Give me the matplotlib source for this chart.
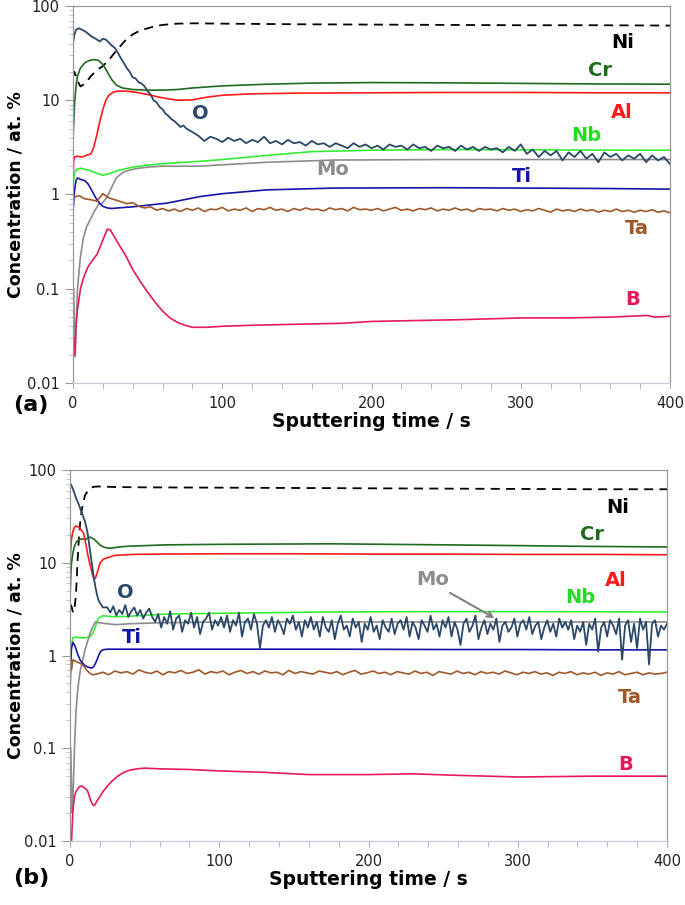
import numpy as np
import matplotlib.pyplot as plt
from matplotlib.ticker import LogLocator, NullFormatter, MultipleLocator

plt.rcParams['font.family'] = 'DejaVu Sans'

# ---------------- panel (a) ----------------
t_ni_a = [0, 1, 3, 5, 8, 12, 16, 20, 25, 30, 35, 40, 45, 50, 55, 60, 70, 80, 100, 150, 200, 250, 300, 350, 400]
ni_a = [18, 20, 16, 14, 15, 18, 21, 23, 28, 35, 43, 50, 55, 58, 61, 63, 65, 65.5, 65, 64, 63.5, 63, 62.5, 62.5, 62]

t_cr_a = [0, 1, 2, 3, 5, 8, 11, 14, 17, 20, 23, 26, 29, 33, 40, 50, 60, 70, 80, 100, 130, 160, 200, 250, 300, 350, 400]
cr_a = [3.8, 9, 14, 18, 22, 25, 26.5, 27, 26.5, 24, 20, 16.5, 14.5, 13.5, 13, 12.8, 12.8, 13, 13.5, 14.2, 14.8, 15.2, 15.4, 15.3, 15.1, 14.9, 14.8]

t_al_a = [0, 0.5, 1, 3, 6, 9, 12, 14, 16, 18, 20, 22, 24, 27, 30, 35, 40, 50, 60, 70, 80, 90, 100, 120, 150, 200, 250, 300, 350, 400]
al_a = [1.5, 2.3, 2.5, 2.55, 2.5, 2.6, 2.7, 3.2, 4.3, 6.0, 8.0, 10.0, 11.3, 12.2, 12.5, 12.5, 12.3, 11.5, 10.6, 10.0, 10.1, 10.8, 11.3, 11.7, 11.9, 12.0, 12.1, 12.1, 12.0, 12.0]

t_nb_a = [0, 1, 2.5, 5, 10, 15, 20, 25, 30, 40, 50, 60, 85, 100, 130, 160, 200, 250, 300, 350, 400]
nb_a = [1.2, 1.7, 1.85, 1.9, 1.82, 1.7, 1.6, 1.68, 1.8, 1.95, 2.05, 2.12, 2.25, 2.35, 2.6, 2.85, 2.95, 3.0, 2.98, 2.96, 2.95]

t_mo_a = [0.5, 1, 1.5, 2, 3, 5, 7, 9, 11, 14, 17, 20, 23, 26, 29, 33, 37, 42, 50, 60, 85, 130, 175, 250, 300, 350, 400]
mo_a = [0.1, 0.03, 0.019, 0.04, 0.1, 0.22, 0.35, 0.45, 0.52, 0.65, 0.78, 0.82, 0.95, 1.2, 1.5, 1.7, 1.8, 1.88, 1.95, 2.0, 2.0, 2.2, 2.32, 2.35, 2.35, 2.35, 2.35]

t_ti_a = [0, 1, 2, 3, 5, 8, 10, 12, 14, 16, 18, 20, 23, 26, 30, 35, 40, 50, 63, 85, 100, 130, 175, 250, 300, 350, 400]
ti_a = [0.65, 1.1, 1.4, 1.5, 1.45, 1.4, 1.3, 1.15, 1.0, 0.88, 0.8, 0.75, 0.72, 0.71, 0.72, 0.73, 0.74, 0.77, 0.81, 0.95, 1.02, 1.12, 1.17, 1.18, 1.17, 1.16, 1.14]

# Ta, sampled every 4 s from 0 to 400 s
ta_a = [0.93,
        0.97, 0.9, 0.88, 0.85, 1.02, 0.92, 0.88, 0.84, 0.8, 0.82,
        0.75, 0.72, 0.74, 0.68, 0.71, 0.67, 0.7, 0.66, 0.71, 0.68,
        0.72, 0.66, 0.7, 0.69, 0.73, 0.67, 0.7, 0.68, 0.72, 0.66,
        0.71, 0.69, 0.73, 0.68, 0.7, 0.66, 0.71, 0.68, 0.72, 0.69,
        0.7, 0.67, 0.72, 0.69, 0.71, 0.67, 0.73, 0.69, 0.7, 0.68,
        0.71, 0.67, 0.7, 0.73, 0.68, 0.7, 0.67, 0.71, 0.69, 0.72,
        0.67, 0.7, 0.68, 0.72, 0.68, 0.7, 0.66, 0.71, 0.69, 0.7,
        0.67, 0.71, 0.68, 0.7, 0.66, 0.69, 0.67, 0.71, 0.68, 0.65,
        0.7, 0.67, 0.69, 0.66, 0.7, 0.67, 0.69, 0.65, 0.68, 0.66,
        0.7, 0.66, 0.68, 0.65, 0.68, 0.66, 0.69, 0.65, 0.67, 0.64]

t_b_a = [0.5, 1, 1.5, 2, 3, 5, 7, 10, 13, 16, 19, 21, 23, 25, 28, 31, 35, 40, 45, 50, 55, 60, 65, 70, 75, 80, 90, 100, 120, 150, 180, 200, 230, 260, 300, 330, 360, 385, 390, 400]
b_a = [0.03, 0.02, 0.025, 0.04, 0.06, 0.1, 0.13, 0.17, 0.2, 0.23, 0.3, 0.36, 0.43, 0.42, 0.35, 0.29, 0.23, 0.16, 0.12, 0.092, 0.072, 0.058, 0.049, 0.044, 0.041, 0.039, 0.039, 0.04, 0.041, 0.042, 0.043, 0.045, 0.046, 0.047, 0.049, 0.049, 0.05, 0.052, 0.05, 0.051]

t_o_a = [0, 1, 2, 4, 6, 8, 10, 12, 14, 16, 18, 20, 22, 24, 26, 28, 30, 32, 34, 36, 38, 40, 42, 44, 46, 48, 50, 52, 54, 56, 58, 60, 62, 64, 66, 68, 70, 72, 74, 76, 78]
o_a = [40, 50, 56, 58, 56, 54, 51, 48, 46, 44, 42, 45, 44, 41, 38, 36, 32, 28, 25, 22, 20, 17.5, 17, 15.5, 15, 14, 12.5, 11.5, 10, 9.5, 8.5, 8, 7.2, 6.8, 6.3, 6, 5.6, 5.2, 5.4, 5.0, 4.8]
# O after 80 s, every 4 s
o_a_tail = [4.6, 4.2, 3.7, 4.1, 3.9, 3.6, 4.0, 3.7, 3.9, 3.5, 3.8, 3.6, 4.1, 3.5, 3.7, 3.4, 3.8, 3.5, 3.6, 3.3,
            3.7, 3.4, 3.5, 3.2, 3.5, 3.3, 3.1, 3.5, 3.2, 3.4, 3.1, 3.3, 3.0, 3.4, 3.2, 3.3, 3.0, 3.4, 3.1, 3.2,
            2.9, 3.3, 3.1, 3.2, 2.9, 3.3, 3.0, 3.2, 2.9, 3.2, 3.0, 3.1, 2.8, 3.2, 2.9, 3.4, 2.7, 3.0, 2.5, 2.9,
            2.6, 2.9, 2.3, 2.8, 2.5, 2.9, 2.4, 2.7, 2.2, 2.8, 2.5, 2.7, 2.3, 2.6, 2.4, 2.7, 2.2, 2.6, 2.3, 2.5, 2.1]

# ---------------- panel (b) ----------------
t_ni_b = [0, 1, 2, 3, 4, 5, 6, 7, 8, 10, 12, 14, 16, 20, 25, 30, 50, 100, 150, 200, 250, 300, 350, 400]
ni_b = [3.6, 3.4, 2.9, 3.2, 4.5, 10, 19, 29, 38, 53, 60, 64, 66, 66.5, 66, 65.5, 65, 64.5, 64, 63.5, 63, 62.5, 62, 62]

t_cr_b = [0, 0.5, 1, 2, 3, 4, 5, 6, 8, 10, 12, 13.5, 16, 18, 20, 22, 25, 28, 33, 40, 65, 100, 175, 250, 300, 350, 400]
cr_b = [4, 7, 10, 13, 15, 16.5, 17.3, 17.8, 18.1, 17.8, 18.4, 18.9, 18, 16.8, 15.6, 14.9, 14.4, 14.4, 14.8, 15.1, 15.6, 15.8, 16.0, 15.6, 15.3, 15.0, 14.8]

t_al_b = [0, 0.5, 1, 2, 3, 4, 5, 6, 7, 8, 9, 10, 11, 12, 13, 14, 15, 16, 17, 18, 19, 20, 22, 24, 27, 30, 42, 60, 100, 150, 200, 250, 300, 350, 400]
al_b = [10, 14, 18, 22, 24, 25, 24.5, 24, 23, 22, 21, 18, 14.8, 12, 10.2, 8.8, 7.5, 6.7, 6.8, 7.6, 8.6, 9.8, 10.8, 11.2, 11.6, 12.0, 12.3, 12.4, 12.5, 12.5, 12.4, 12.4, 12.3, 12.3, 12.2]

t_nb_b = [0, 1, 2, 4, 7, 10, 12, 14, 16, 17, 18, 19, 20, 22, 25, 30, 40, 65, 100, 175, 250, 300, 350, 400]
nb_b = [0.9, 1.3, 1.55, 1.58, 1.55, 1.55, 1.57, 1.62, 1.85, 2.05, 2.3, 2.5, 2.6, 2.68, 2.65, 2.62, 2.65, 2.8, 2.85, 2.95, 2.97, 2.97, 2.96, 2.95]

t_mo_b = [0.5, 1, 1.5, 2, 3, 4, 5, 6, 7, 8, 9, 10, 12, 13.5, 15, 17, 20, 25, 31, 40, 60, 100, 175, 250, 300, 400]
mo_b = [0.1, 0.04, 0.02, 0.03, 0.1, 0.25, 0.4, 0.55, 0.7, 0.82, 0.95, 1.15, 1.45, 1.75, 2.0, 2.3, 2.25, 2.2, 2.15, 2.2, 2.25, 2.3, 2.3, 2.3, 2.3, 2.3]

t_ti_b = [0, 0.5, 1, 2, 3, 4, 5, 6.7, 8, 10, 12, 14.5, 16, 17, 18, 19, 20, 21, 23, 26, 30, 50, 100, 175, 250, 300, 350, 400]
ti_b = [0.4, 0.8, 1.2, 1.38, 1.3, 1.18, 1.05, 0.9, 0.84, 0.78, 0.75, 0.73, 0.76, 0.82, 0.89, 0.98, 1.07, 1.13, 1.16, 1.17, 1.17, 1.17, 1.17, 1.17, 1.16, 1.16, 1.15, 1.15]

t_ta_b = [1, 2, 3, 5, 7, 9, 11, 13, 15]
ta_b = [0.7, 0.9, 0.88, 0.85, 0.82, 0.78, 0.7, 0.65, 0.62]
# Ta after 18 s, every 4 s
ta_b_tail = [0.63, 0.66, 0.62, 0.68, 0.65, 0.67, 0.63, 0.7, 0.66, 0.64, 0.68, 0.62, 0.67, 0.65, 0.69, 0.64,
             0.66, 0.7, 0.63, 0.67, 0.65, 0.68, 0.62, 0.66, 0.69, 0.64, 0.67, 0.63, 0.68, 0.65, 0.66, 0.62,
             0.69, 0.64, 0.67, 0.65, 0.63, 0.68, 0.66, 0.64, 0.67, 0.62, 0.66, 0.69, 0.63, 0.65, 0.68, 0.64,
             0.66, 0.62, 0.67, 0.65, 0.63, 0.68, 0.64, 0.66, 0.61, 0.67, 0.65, 0.63, 0.68, 0.64, 0.66, 0.62,
             0.67, 0.64, 0.66, 0.63, 0.68, 0.65, 0.62, 0.66, 0.64, 0.67, 0.63, 0.65, 0.61, 0.66, 0.64, 0.67,
             0.62, 0.65, 0.63, 0.66, 0.61, 0.65, 0.63, 0.67, 0.62, 0.64, 0.66, 0.62, 0.65, 0.63, 0.64, 0.66]

t_b_b = [0.8, 1, 1.5, 2, 3, 4, 5, 6, 7, 8, 9, 10, 11, 12, 13, 14, 15, 16, 17, 18, 20, 22, 25, 28, 32, 36, 40, 45, 50, 60, 80, 100, 130, 160, 200, 230, 260, 300, 350, 400]
b_b = [0.008, 0.01, 0.015, 0.022, 0.03, 0.034, 0.036, 0.038, 0.039, 0.039, 0.038, 0.037, 0.036, 0.034, 0.03, 0.027, 0.025, 0.024, 0.025, 0.027, 0.03, 0.034, 0.039, 0.044, 0.05, 0.055, 0.058, 0.06, 0.061, 0.06, 0.059, 0.057, 0.055, 0.052, 0.052, 0.053, 0.051, 0.049, 0.05, 0.05]

t_o_b = [0, 1, 2, 3, 4, 5, 6, 7, 8, 9, 10, 11, 12, 13, 14, 15, 16, 17, 18, 19, 20, 22]
o_b = [72, 68, 62, 56, 50, 46, 42, 38, 34, 31, 28, 24, 20, 15, 11.5, 9, 6.8, 5.5, 4.6, 4.0, 3.7, 3.3]
# O after 25 s, every 2 s
o_b_tail = [3.3, 2.9, 3.4, 2.7, 3.1, 2.8, 3.5, 2.6, 3.0, 3.3, 2.7, 3.1, 2.5, 2.9, 3.2, 2.6,
            2.3, 2.8, 2.0, 2.6, 2.2, 3.0, 1.9, 2.5, 2.7, 1.8, 2.4, 2.2, 2.9, 2.0, 2.6, 1.7, 2.3, 2.5, 2.9, 1.9,
            2.4, 2.1, 2.6,
            2.0, 2.7, 1.8, 2.4, 2.1, 2.9, 1.6, 2.3, 2.5, 1.9, 2.8, 2.2, 1.2, 2.1, 2.4, 2.0, 2.6, 1.8, 2.4, 2.1,
            1.7, 2.5, 2.2, 2.7, 1.9, 2.3, 1.6, 2.4, 2.0, 2.6,
            1.9, 2.3, 1.6, 2.6, 2.0, 1.8, 2.4, 1.5, 2.2, 2.7, 1.9, 2.1, 1.6, 2.5, 2.0, 2.3, 1.4, 2.2, 1.9, 2.6,
            1.8, 2.1, 1.5, 2.4, 2.0, 1.8, 2.5, 1.7, 2.2, 2.4, 1.9, 2.6, 1.6, 2.3, 2.0, 1.5, 2.4, 2.1, 1.8, 2.7,
            1.9, 2.2, 1.6, 2.4, 2.0,
            2.6, 1.6, 2.3, 1.9, 1.3, 2.2, 2.5, 1.8, 2.1, 2.7, 1.5, 2.0, 2.4, 1.7, 2.2, 1.9, 2.5, 1.4, 2.1, 2.3,
            1.8, 2.0, 2.5, 1.6, 2.2, 2.4, 1.9, 2.6, 1.7, 2.1, 2.3, 1.5, 2.0, 2.4, 1.8, 2.2, 1.6, 2.5, 2.0, 2.3,
            1.9, 2.4, 1.5, 2.1, 1.8, 2.3, 1.3, 2.2, 1.9, 2.5, 1.1, 2.0, 2.3, 1.6, 2.4, 2.1, 1.7, 2.5, 0.9, 2.1,
            2.4, 1.4, 2.2, 1.2, 2.5, 1.9, 2.3, 0.8, 2.2, 2.4, 1.6, 2.1, 1.9, 2.2]

col = {'Ni': 'black', 'Cr': '#1e6b1e', 'Al': '#ff1a1a', 'Nb': '#33ee33', 'Mo': '#8c8c8c',
       'Ti': '#1515a8', 'Ta': '#a0582a', 'B': '#e8185c', 'O': '#2b4868'}


def style_axes(ax):
    ax.set_yscale('log')
    ax.set_xlim(0, 400)
    ax.set_ylim(0.01, 100)
    ax.set_yticks([0.01, 0.1, 1, 10, 100])
    ax.set_yticklabels(['0.01', '0.1', '1', '10', '100'])
    ax.yaxis.set_minor_locator(LogLocator(base=10, subs=np.arange(2, 10)))
    ax.yaxis.set_minor_formatter(NullFormatter())
    ax.set_xticks([0, 100, 200, 300, 400])
    ax.xaxis.set_minor_locator(MultipleLocator(20))
    ax.tick_params(axis='y', which='major', length=6, color='#999999', labelsize=10.5, labelcolor='#222222')
    ax.tick_params(axis='y', which='minor', length=3, color='#bbbbbb')
    ax.tick_params(axis='x', which='both', length=4, color='#aaaacc', labelsize=10.5, labelcolor='#222222', pad=5)
    for s in ax.spines.values():
        s.set_color('#999999')
        s.set_linewidth(0.9)
    ax.spines['bottom'].set_color('#c8c8dc')
    ax.set_xlabel('Sputtering time / s', fontsize=13.5, fontweight='bold', labelpad=1)
    ax.set_ylabel('Concentration / at. %', fontsize=12.5, fontweight='bold')


def label(ax, x, y, s, c):
    ax.text(x, y, s, color=c, fontsize=14, fontweight='bold', ha='center', va='center')


fig = plt.figure(figsize=(6.85, 9.05), dpi=100)
lw = 1.2

# panel (a)
ax1 = fig.add_axes([73/685, 1-383/905, 597/685, 377/905])
ax1.plot(t_ni_a, ni_a, color=col['Ni'], lw=1.3, linestyle=(0, (5, 3.5)))
ax1.plot(t_cr_a, cr_a, color=col['Cr'], lw=lw)
ax1.plot(t_al_a, al_a, color=col['Al'], lw=lw)
ax1.plot(t_nb_a, nb_a, color=col['Nb'], lw=lw)
ax1.plot(t_mo_a, mo_a, color=col['Mo'], lw=lw)
ax1.plot(t_ti_a, ti_a, color=col['Ti'], lw=lw)
ax1.plot(np.linspace(0, 400, len(ta_a)), ta_a, color=col['Ta'], lw=lw)
ax1.plot(t_b_a, b_a, color=col['B'], lw=lw)
ax1.plot(t_o_a + list(np.linspace(80, 400, len(o_a_tail))), o_a + o_a_tail, color=col['O'], lw=1.3)
style_axes(ax1)
ax1.yaxis.set_label_coords(-0.082, 0.5)
label(ax1, 368, 41, 'Ni', 'black')
label(ax1, 353, 20.5, 'Cr', col['Cr'])
label(ax1, 368, 7.5, 'Al', col['Al'])
label(ax1, 344, 4.2, 'Nb', '#22dd22')
label(ax1, 174, 1.82, 'Mo', col['Mo'])
label(ax1, 301, 1.54, 'Ti', col['Ti'])
label(ax1, 378, 0.44, 'Ta', col['Ta'])
label(ax1, 375, 0.076, 'B', col['B'])
label(ax1, 85, 7.3, 'O', col['O'])

# panel (b)
ax2 = fig.add_axes([70/685, 1-841/905, 597/685, 371/905])
ax2.plot(t_ni_b, ni_b, color=col['Ni'], lw=1.3, linestyle=(0, (5, 3.5)))
ax2.plot(t_cr_b, cr_b, color=col['Cr'], lw=lw)
ax2.plot(t_al_b, al_b, color=col['Al'], lw=lw)
ax2.plot(t_nb_b, nb_b, color=col['Nb'], lw=lw)
ax2.plot(t_mo_b, mo_b, color=col['Mo'], lw=lw)
ax2.plot(t_ti_b, ti_b, color=col['Ti'], lw=lw)
ax2.plot(t_ta_b + list(np.linspace(18, 400, len(ta_b_tail))), ta_b + ta_b_tail, color=col['Ta'], lw=lw)
ax2.plot(t_b_b, b_b, color=col['B'], lw=lw)
ax2.plot(t_o_b + list(np.linspace(25, 400, len(o_b_tail))), o_b + o_b_tail, color=col['O'], lw=1.3)
style_axes(ax2)
ax2.yaxis.set_label_coords(-0.077, 0.5)
label(ax2, 367, 39, 'Ni', 'black')
label(ax2, 350, 20, 'Cr', col['Cr'])
label(ax2, 366, 6.5, 'Al', col['Al'])
label(ax2, 342, 4.2, 'Nb', '#22dd22')
label(ax2, 243, 6.6, 'Mo', col['Mo'])
label(ax2, 41.5, 1.58, 'Ti', col['Ti'])
label(ax2, 37, 4.8, 'O', col['O'])
label(ax2, 375, 0.355, 'Ta', col['Ta'])
label(ax2, 372, 0.066, 'B', col['B'])
ax2.annotate('', xy=(286, 2.45), xytext=(253, 4.9),
             arrowprops=dict(arrowstyle='->', color='#808080', lw=1.5))

fig.text(13/685, 1-405/905, '(a)', fontsize=16, fontweight='bold', va='center', ha='left')
fig.text(13/685, 1-878/905, '(b)', fontsize=16, fontweight='bold', va='center', ha='left')

fig.savefig('out.png', dpi=100)
